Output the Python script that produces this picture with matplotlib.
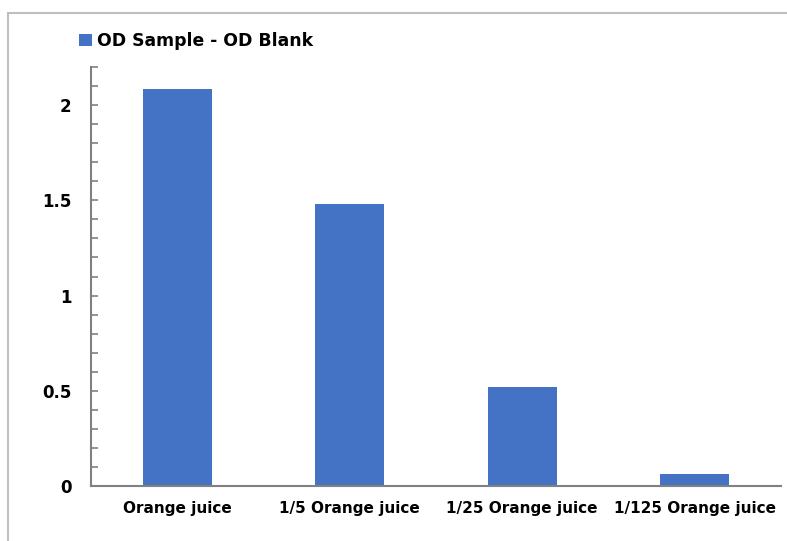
import matplotlib
matplotlib.use("Agg")
import matplotlib.pyplot as plt
from matplotlib.patches import Rectangle
import numpy as np

categories = ["Orange juice", "1/5 Orange juice", "1/25 Orange juice", "1/125 Orange juice"]
values = [2.085, 1.48, 0.52, 0.063]
series_name = "OD Sample - OD Blank"
yticks = [0, 0.5, 1, 1.5, 2]
ytick_labels = ["0", "0.5", "1", "1.5", "2"]

plt.rcParams['font.family'] = ['DejaVu Sans']
plt.rcParams['font.weight'] = 'bold'

fig = plt.figure(figsize=(7.87, 5.41), dpi=100)
ax = fig.add_axes([91/787, 1-486/541, (781-91)/787, (486-67)/541])

x = np.arange(len(categories))
ax.bar(x, values, width=0.4, color="#4472C4", label=series_name, zorder=2)
ax.set_xlim(-0.5, 3.5)
ax.set_ylim(0, 2.2)
ax.set_xticks(x)
ax.set_xticklabels(categories, fontsize=11, fontweight='bold')
ax.set_yticks(yticks)
ax.set_yticklabels(ytick_labels, fontsize=12, fontweight='bold')
ax.set_yticks(np.round(np.arange(0, 2.21, 0.1), 2), minor=True)
ax.tick_params(axis='x', length=0, pad=11)
ax.tick_params(axis='y', which='both', direction='in', length=5, width=1.2, color='#808080', pad=14)
for s in ['top', 'right']:
    ax.spines[s].set_visible(False)
for s in ['left', 'bottom']:
    ax.spines[s].set_color('#808080')
    ax.spines[s].set_linewidth(1.5)

leg = fig.legend(loc='upper left', bbox_to_anchor=(67/787, 1-20/541), frameon=False,
                 prop={'family': 'DejaVu Sans', 'weight': 'bold', 'size': 12.4},
                 handlelength=0.75, handleheight=0.75, handletextpad=0.3, borderpad=0.2)

fig.patches.append(Rectangle((8/787, -0.1), 1.2, 1.1 - 13/541, transform=fig.transFigure,
                             fill=False, edgecolor='#BFBFBF', linewidth=1.5))

fig.savefig("out.png", dpi=100)
